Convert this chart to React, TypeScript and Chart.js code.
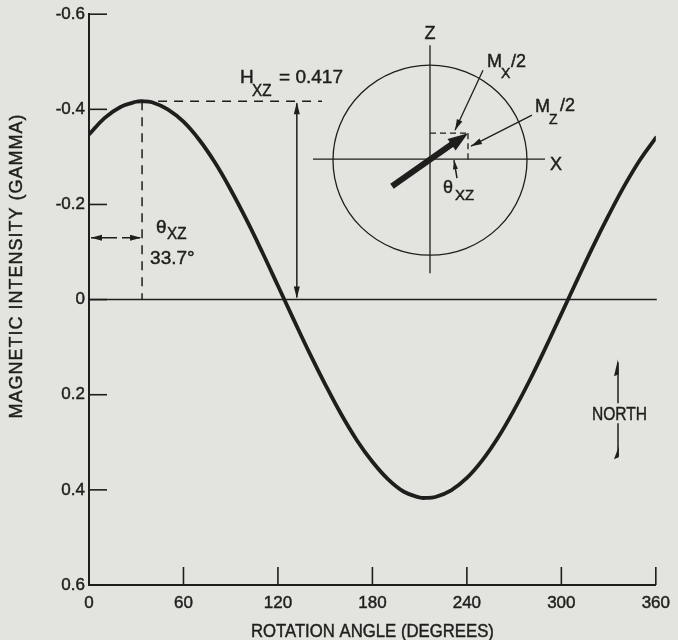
import { useEffect, useRef } from "react";
import { Chart, registerables } from "chart.js";

Chart.register(...registerables);

// Rotation angle (degrees) along the trace and the field intensity (gamma) at each angle
const rotationAngles = [
  0, 10, 20, 30, 33.7, 40, 50, 60, 70, 80, 90, 100, 110, 120, 130, 140, 150, 160, 170,
  180, 190, 200, 210, 213.7, 220, 230, 240, 250, 260, 270, 280, 290, 300, 310, 320, 330,
  340, 350, 360,
];
const magneticIntensity = [
  -0.347, -0.382, -0.405, -0.416, -0.417, -0.415, -0.4, -0.374, -0.336, -0.288, -0.231,
  -0.168, -0.1, -0.029, 0.042, 0.112, 0.178, 0.24, 0.295, 0.341, 0.378, 0.404, 0.416,
  0.417, 0.415, 0.401, 0.375, 0.337, 0.289, 0.232, 0.169, 0.101, 0.03, -0.041, -0.111,
  -0.177, -0.239, -0.294, -0.34,
];

const angleTicks = [0, 60, 120, 180, 240, 300, 360];
const intensityTicks = [-0.6, -0.4, -0.2, 0, 0.2, 0.4, 0.6];
const intensityTickLabels = ["-0.6", "-0.4", "-0.2", "0", "0.2", "0.4", "0.6"];

// Peak of the trace: phase angle and amplitude
const peakAngle = 33.7;
const peakIntensity = -0.417;
const amplitudeText = "0.417";
const phaseText = "33.7°";

const INK = "#1e1e1c";
const PAPER = "#e3e4df";
const FONT = '"Liberation Sans", Arial, sans-serif';

type TextOpts = {
  align?: CanvasTextAlign;
  baseline?: CanvasTextBaseline;
  sx?: number;
  spacing?: number;
  rotate?: number;
};

function drawText(
  ctx: CanvasRenderingContext2D,
  str: string,
  x: number,
  y: number,
  size: number,
  opts: TextOpts = {}
) {
  ctx.save();
  ctx.fillStyle = INK;
  ctx.strokeStyle = INK;
  ctx.lineWidth = 0.45;
  ctx.font = `${size}px ${FONT}`;
  ctx.textAlign = opts.align ?? "left";
  ctx.textBaseline = opts.baseline ?? "alphabetic";
  if (opts.spacing) (ctx as any).letterSpacing = `${opts.spacing}px`;
  ctx.translate(x, y);
  if (opts.rotate) ctx.rotate(opts.rotate);
  if (opts.sx) ctx.scale(opts.sx, 1);
  ctx.fillText(str, 0, 0);
  ctx.strokeText(str, 0, 0);
  ctx.restore();
}

function drawLine(
  ctx: CanvasRenderingContext2D,
  x1: number,
  y1: number,
  x2: number,
  y2: number,
  width: number,
  dash: number[] = []
) {
  ctx.save();
  ctx.strokeStyle = INK;
  ctx.lineWidth = width;
  ctx.setLineDash(dash);
  ctx.beginPath();
  ctx.moveTo(x1, y1);
  ctx.lineTo(x2, y2);
  ctx.stroke();
  ctx.restore();
}

// Filled arrowhead with its tip at (x, y), pointing away from (fx, fy)
function arrowHead(
  ctx: CanvasRenderingContext2D,
  x: number,
  y: number,
  fx: number,
  fy: number,
  len: number,
  half: number
) {
  const a = Math.atan2(y - fy, x - fx);
  const c = Math.cos(a);
  const s = Math.sin(a);
  ctx.save();
  ctx.fillStyle = INK;
  ctx.beginPath();
  ctx.moveTo(x, y);
  ctx.lineTo(x - len * c + half * s, y - len * s - half * c);
  ctx.lineTo(x - len * c - half * s, y - len * s + half * c);
  ctx.closePath();
  ctx.fill();
  ctx.restore();
}

function arrow(
  ctx: CanvasRenderingContext2D,
  x1: number,
  y1: number,
  x2: number,
  y2: number,
  width: number,
  len = 11,
  half = 3
) {
  drawLine(ctx, x1, y1, x2, y2, width);
  arrowHead(ctx, x2, y2, x1, y1, len, half);
}

const paperPlugin = {
  id: "paper",
  beforeDraw(chart: Chart) {
    const ctx = chart.ctx;
    ctx.save();
    ctx.fillStyle = PAPER;
    ctx.fillRect(0, 0, chart.width, chart.height);
    ctx.restore();
  },
};

const annotationPlugin = {
  id: "figureNotes",
  afterDraw(chart: Chart) {
    const ctx = chart.ctx;
    const area = chart.chartArea;
    const xs = chart.scales.x;
    const ys = chart.scales.y;

    // zero reference line
    const zy = ys.getPixelForValue(0);
    drawLine(ctx, area.left, zy, area.right + 1, zy, 1.5);

    // inward tick marks
    intensityTicks.forEach((v) => {
      const y = ys.getPixelForValue(v);
      drawLine(ctx, area.left, y, area.left + 18, y, 1.6);
    });
    angleTicks.forEach((v) => {
      if (v === 0) return;
      const x = xs.getPixelForValue(v);
      drawLine(ctx, x, area.bottom, x, area.bottom - 18, 1.6);
    });

    // peak construction lines
    const px = xs.getPixelForValue(peakAngle);
    const py = ys.getPixelForValue(peakIntensity);
    drawLine(ctx, px, py, px, zy, 1.5, [9, 7]);
    drawLine(ctx, px, py, xs.getPixelForValue(148), py, 1.5, [9, 7]);

    // amplitude double arrow
    const ax = xs.getPixelForValue(132);
    drawLine(ctx, ax, py + 2, ax, zy - 2, 1.5);
    arrowHead(ctx, ax, py + 1, ax, zy, 12, 3);
    arrowHead(ctx, ax, zy - 1, ax, py, 12, 3);

    // phase angle arrows
    const ty = ys.getPixelForValue(-0.13);
    drawLine(ctx, area.left + 2, ty, area.left + 28, ty, 1.5);
    arrowHead(ctx, area.left + 2, ty, area.left + 28, ty, 11, 3);
    drawLine(ctx, area.left + 33, ty, px - 2, ty, 1.5);
    arrowHead(ctx, px - 1, ty, area.left + 33, ty, 11, 3);

    // H_xz label
    drawText(ctx, "H", px + 98, py - 18, 19);
    drawText(ctx, "XZ", px + 110, py - 5, 16, { sx: 0.95 });
    drawText(ctx, "= " + amplitudeText, px + 137, py - 18, 19);

    // theta label
    drawText(ctx, "θ", px + 14, ty - 5, 19);
    drawText(ctx, "XZ", px + 25, ty + 1, 16, { sx: 0.95 });
    drawText(ctx, phaseText, px + 8, ty + 26, 19);

    // inset: vector diagram in the X-Z plane
    const cx = area.left + 341;
    const cy = area.top + 145;
    ctx.save();
    ctx.strokeStyle = INK;
    ctx.lineWidth = 1.3;
    ctx.beginPath();
    ctx.ellipse(cx, cy + 1, 97, 95, 0, 0, Math.PI * 2);
    ctx.stroke();
    ctx.restore();
    drawLine(ctx, cx, cy - 114, cx, cy + 114, 1.3);
    drawLine(ctx, cx - 117, cy, cx + 115, cy, 1.3);
    drawText(ctx, "Z", cx, cy - 120, 18, { align: "center" });
    drawText(ctx, "X", cx + 126, cy + 11, 18, { align: "center" });

    // component box
    drawLine(ctx, cx, cy - 26, cx + 38, cy - 26, 1.3, [6, 4]);
    drawLine(ctx, cx + 38, cy - 26, cx + 38, cy, 1.3, [6, 4]);

    // moment vector
    ctx.save();
    ctx.strokeStyle = INK;
    ctx.lineWidth = 6;
    ctx.beginPath();
    ctx.moveTo(cx - 38, cy + 27);
    ctx.lineTo(cx + 26, cy - 18);
    ctx.stroke();
    ctx.restore();
    arrowHead(ctx, cx + 38, cy - 26, cx - 38, cy + 27, 20, 7);

    // component labels
    drawText(ctx, "M", cx + 57, cy - 92, 18);
    drawText(ctx, "X", cx + 71, cy - 81, 14);
    drawText(ctx, "/2", cx + 81, cy - 92, 18);
    arrow(ctx, cx + 53, cy - 89, cx + 25, cy - 29, 1.3, 11, 3);

    drawText(ctx, "M", cx + 105, cy - 47, 18);
    drawText(ctx, "Z", cx + 119, cy - 35, 14);
    drawText(ctx, "/2", cx + 130, cy - 48, 18);
    arrow(ctx, cx + 102, cy - 44, cx + 41, cy - 13, 1.3, 11, 3);

    // inset angle marker
    arrow(ctx, cx + 27, cy + 19, cx + 24, cy + 1, 1.5, 9, 2.5);
    drawText(ctx, "θ", cx + 13, cy + 34, 18);
    drawText(ctx, "XZ", cx + 25, cy + 41, 15);

    // north marker
    const nx = area.left + 529;
    drawLine(ctx, nx, area.top + 348, nx, area.top + 389, 1.5);
    ctx.save();
    ctx.fillStyle = INK;
    ctx.beginPath();
    ctx.moveTo(nx, area.top + 345);
    ctx.lineTo(nx - 4, area.top + 362);
    ctx.lineTo(nx + 0.8, area.top + 360);
    ctx.closePath();
    ctx.fill();
    ctx.beginPath();
    ctx.moveTo(nx + 0.8, area.top + 443);
    ctx.lineTo(nx - 4, area.top + 445);
    ctx.lineTo(nx + 0.8, area.top + 432);
    ctx.closePath();
    ctx.fill();
    ctx.restore();
    drawLine(ctx, nx, area.top + 409, nx, area.top + 442, 1.5);
    drawText(ctx, "NORTH", nx - 26, area.top + 406, 19, { sx: 0.82 });

    // axis titles
    drawText(ctx, "ROTATION ANGLE (DEGREES)", (area.left + area.right) / 2, 637, 18, {
      align: "center",
      sx: 0.93,
    });
    drawText(ctx, "MAGNETIC INTENSITY (GAMMA)", 22, 266, 18, {
      align: "center",
      rotate: -Math.PI / 2,
      spacing: 1,
    });
  },
};

export default function App() {
  const canvasRef = useRef<HTMLCanvasElement | null>(null);

  useEffect(() => {
    document.body.style.margin = "0";
    document.body.style.background = PAPER;
    const canvas = canvasRef.current;
    if (!canvas) return;

    const points = rotationAngles.map((a, i) => ({ x: a, y: magneticIntensity[i] }));

    const chart = new Chart(canvas, {
      type: "line",
      data: {
        datasets: [
          {
            data: points,
            borderColor: INK,
            borderWidth: 3.8,
            pointRadius: 0,
            fill: false,
            tension: 0.4,
            borderCapStyle: "round",
            borderJoinStyle: "round",
          },
        ],
      },
      options: {
        responsive: false,
        animation: false,
        devicePixelRatio: 1,
        layout: { padding: { left: 0, right: 13, top: 14, bottom: 0 } },
        plugins: {
          legend: { display: false },
          tooltip: { enabled: false },
        },
        scales: {
          x: {
            type: "linear",
            min: 0,
            max: 360,
            afterBuildTicks: (scale: any) => {
              scale.ticks = angleTicks.map((v) => ({ value: v }));
            },
            afterFit: (scale: any) => {
              scale.height = 55;
            },
            ticks: {
              color: INK,
              font: { family: FONT, size: 17 },
              textStrokeColor: INK,
              textStrokeWidth: 0.45,
              padding: 8,
              maxRotation: 0,
              autoSkip: false,
              callback: (v: any) => String(v),
            },
            grid: { display: false, drawTicks: false },
            border: { display: true, color: INK, width: 2 },
          },
          y: {
            type: "linear",
            reverse: true,
            min: -0.6,
            max: 0.6,
            afterBuildTicks: (scale: any) => {
              scale.ticks = intensityTicks.map((v) => ({ value: v }));
            },
            afterFit: (scale: any) => {
              scale.width = 89;
            },
            ticks: {
              color: INK,
              font: { family: FONT, size: 17 },
              textStrokeColor: INK,
              textStrokeWidth: 0.45,
              padding: 4,
              autoSkip: false,
              callback: (v: any) => {
                const i = intensityTicks.findIndex((t) => Math.abs(t - Number(v)) < 1e-9);
                return i >= 0 ? intensityTickLabels[i] : "";
              },
            },
            grid: { display: false, drawTicks: false },
            border: { display: true, color: INK, width: 2 },
          },
        },
      },
      plugins: [paperPlugin, annotationPlugin],
    });

    return () => chart.destroy();
  }, []);

  return (
    <div style={{ position: "relative", width: 678, height: 640 }}>
      <canvas ref={canvasRef} width={678} height={640} style={{ display: "block" }} />
    </div>
  );
}
